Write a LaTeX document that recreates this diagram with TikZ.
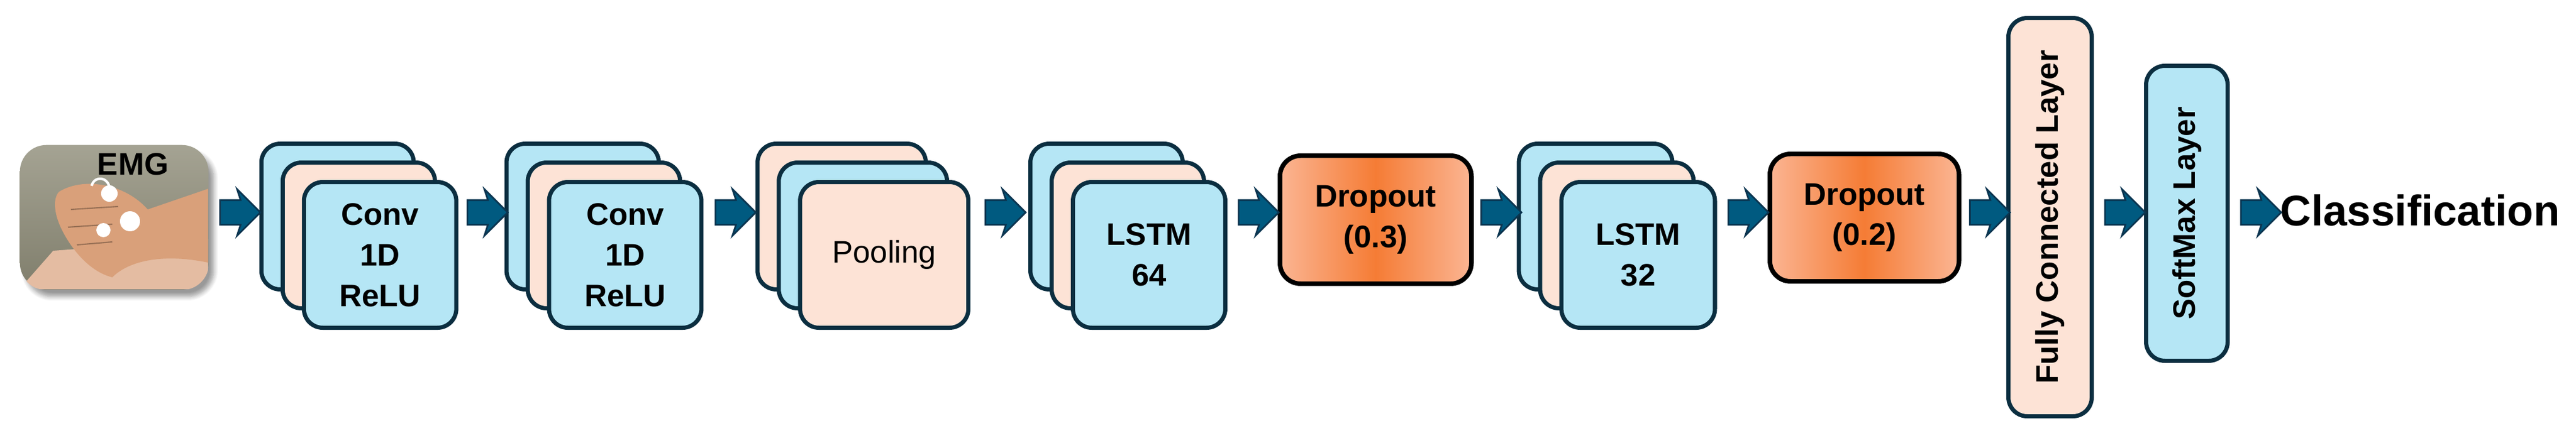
\documentclass[tikz,border=0pt]{standalone}
\usepackage{fontspec}
\setmainfont{Liberation Sans}
\usetikzlibrary{shapes.arrows,shadows.blur,calc}
\definecolor{lblue}{HTML}{B5E6F5}
\definecolor{lpeach}{HTML}{FDE3D6}
\definecolor{navy}{HTML}{0B2E40}
\definecolor{arrfill}{HTML}{005A80}
\definecolor{arrdraw}{HTML}{0B3550}
\definecolor{oredge}{HTML}{FBB593}
\definecolor{ormid}{HTML}{F57C35}
\definecolor{olive}{HTML}{8E8C78}
\definecolor{skin}{HTML}{D9A07A}
\tikzset{
  lab/.style={font=\fontsize{15}{19.6}\selectfont\bfseries, align=center},
  layer/.style={draw=navy, line width=2pt, rounded corners=0.32cm, inner sep=0pt, anchor=north west},
  bl/.style={layer, fill=lblue},
  pc/.style={layer, fill=lpeach},
  drop/.style={draw=black, line width=2.2pt, rounded corners=0.35cm, inner sep=0pt, anchor=north west,
     left color=oredge, right color=oredge, middle color=ormid},
  arr/.style={single arrow, draw=arrdraw, fill=arrfill, line width=0.8pt, minimum width=0.76cm,
     minimum height=0.68cm, single arrow head extend=0.185cm, single arrow head indent=0.06cm,
     inner xsep=0pt, inner ysep=0.195cm, text height=0pt, text depth=0pt},
}
% #1 name, #2 x (px), #3 width (px), #4 back style, #5 mid style, #6 front style, #7 label
\newcommand\mystack[7]{%
  \node[#4, minimum width=#3*0.01cm, minimum height=2.47cm] (#1b) at (#2*0.01, -2.40) {};
  \node[#5, minimum width=#3*0.01cm, minimum height=2.47cm] (#1m) at (#2*0.01+0.36, -2.72) {};
  \node[#6, minimum width=#3*0.01cm, minimum height=2.47cm, lab] (#1) at (#2*0.01+0.72, -3.05) {#7};
}
\begin{document}
\begin{tikzpicture}
\useasboundingbox (0,0) rectangle (43.59,-7.22);
\coordinate (mid) at (0,-3.6);
% EMG input
\node[draw=none, rounded corners=0.45cm, minimum width=3.19cm, minimum height=2.45cm, anchor=north west,
  inner sep=0pt, top color=olive!80!white, bottom color=olive!90!black, blur shadow={shadow blur steps=8, shadow yshift=-0.12cm}] (emg) at (0.33,-2.45) {};
\begin{scope}
\clip[rounded corners=0.45cm] (emg.south west) rectangle (emg.north east);
\fill[skin!70!white] (0.33,-4.9) -- (0.9,-4.25) -- (3.52,-4.05) -- (3.52,-4.9) -- cycle;
\fill[skin] (1.0,-3.25) .. controls (1.4,-3.0) and (2.1,-3.1) .. (2.5,-3.55)
  -- (3.52,-3.2) -- (3.52,-4.45) .. controls (2.8,-4.3) and (2.2,-4.4) .. (1.9,-4.7)
  .. controls (1.5,-4.6) and (1.2,-4.2) .. (1.05,-3.9) .. controls (0.9,-3.6) and (0.9,-3.35) .. (1.0,-3.25) -- cycle;
\draw[skin!70!black, line width=0.6pt] (1.2,-3.55) -- (2.0,-3.5) (1.15,-3.85) -- (1.9,-3.8) (1.3,-4.15) -- (1.9,-4.1);
\fill[white] (1.85,-3.28) circle (0.14) (2.2,-3.75) circle (0.17) (1.75,-3.9) circle (0.12);
\draw[white, line width=1.2pt] (1.55,-3.15) .. controls (1.6,-2.95) and (1.9,-3.0) .. (1.85,-3.28);
\end{scope}
\node[font=\fontsize{15}{18}\selectfont\bfseries] (emgt) at (2.25,-2.78) {EMG};
% stacks
\mystack{c1}{439}{258}{bl}{pc}{bl}{Conv\\1D\\ReLU}
\mystack{c2}{854}{258}{bl}{pc}{bl}{Conv\\1D\\ReLU}
\mystack{po}{1279}{285}{pc}{bl}{pc}{\mdseries Pooling}
\mystack{l1}{1741}{258}{bl}{pc}{bl}{LSTM\\64}
\node[drop, minimum width=3.24cm, minimum height=2.17cm, lab] (d1) at (21.62,-2.60) {Dropout\\(0.3)};
\mystack{l2}{2568}{260}{bl}{pc}{bl}{LSTM\\32}
\node[drop, minimum width=3.20cm, minimum height=2.16cm, lab] (d2) at (29.91,-2.57) {Dropout\\(0.2)};
\node[pc, minimum width=1.41cm, minimum height=6.75cm] (fc) at (33.95,-0.27) {};
\node[lab, rotate=90] at (fc.center) {Fully Connected Layer};
\node[bl, minimum width=1.38cm, minimum height=5.0cm] (sm) at (36.28,-1.08) {};
\node[lab, rotate=90] at (sm.center) {SoftMax Layer};
\node[font=\fontsize{20.7}{24}\selectfont\bfseries, anchor=west, inner sep=0pt] (cls) at (38.58,-3.56) {Classification};
% connectors
\foreach \a/\b in {emg/c1b, c1/c2b, c2/pob, po/l1b, l1/d1, d1/l2b, l2/d2, d2/fc, fc/sm, sm/cls}
  \path (\a.east |- mid) -- (\b.west |- mid) node[midway, arr] {};
\end{tikzpicture}
\end{document}
